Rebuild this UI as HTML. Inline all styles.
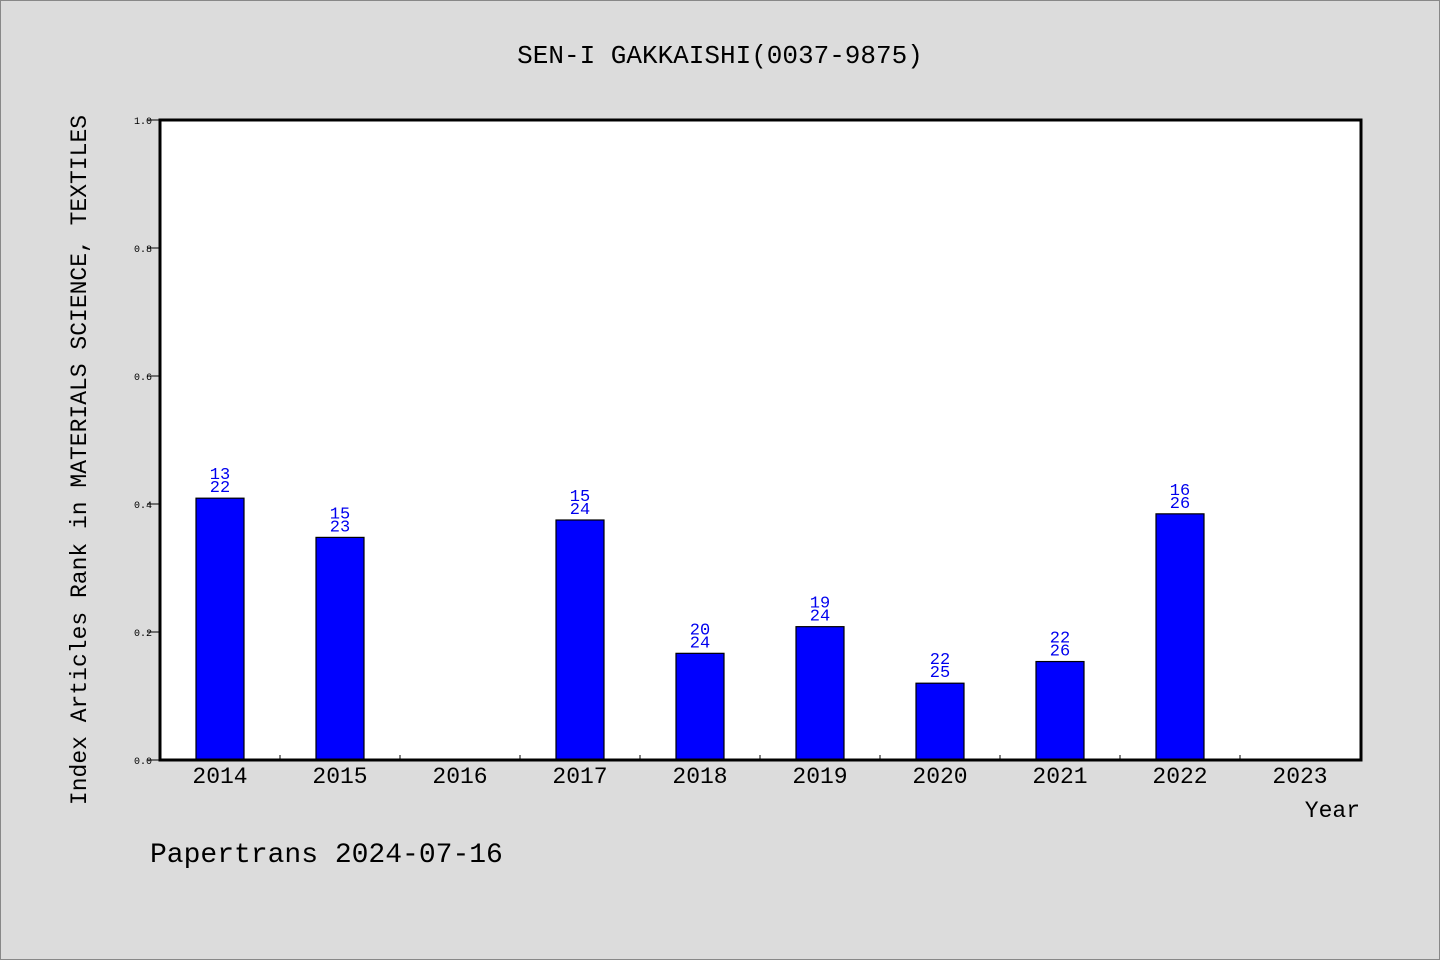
<!DOCTYPE html>
<html><head><meta charset="utf-8"><style>
html,body{margin:0;padding:0;background:#dcdcdc;}
svg{display:block;font-family:"WenQuanYi Zen Hei","Liberation Mono",monospace;}
</style></head><body>
<svg id="chart" width="1440" height="960">
<rect x="0.5" y="0.5" width="1439" height="959" fill="#dcdcdc" stroke="#888"/>
<text x="720" y="63" font-size="26" text-anchor="middle">SEN-I GAKKAISHI(0037-9875)</text>
<rect x="160" y="120" width="1201" height="640" fill="#fff"/>
<g id="bars"></g>
<g id="axes"></g>
<text transform="translate(86,460) rotate(-90)" font-size="23" text-anchor="middle">Index Articles Rank in MATERIALS SCIENCE, TEXTILES</text>
<text x="1360" y="817" font-size="23" text-anchor="end">Year</text>
<text x="150" y="862" font-size="28">Papertrans 2024-07-16</text>
</svg>
<script>
const years=["2014","2015","2016","2017","2018","2019","2020","2021","2022","2023"];
const ranks=[13,15,null,15,20,19,22,22,16,null];
const totals=[22,23,null,24,24,24,25,26,26,null];
const yTicks=[0,0.2,0.4,0.6,0.8,1.0];
const NS="http://www.w3.org/2000/svg";
const X0=160,W=1201,Y0=760,H=640,step=120;
const xs=i=>X0+step*i+step/2;
const ys=v=>Y0-v*H;
const bars=document.getElementById('bars'),axes=document.getElementById('axes');
function mk(t,a,p){const e=document.createElementNS(NS,t);for(const k in a)e.setAttribute(k,a[k]);p.appendChild(e);return e;}
years.forEach((y,i)=>{
  if(ranks[i]!=null){
    const v=1-ranks[i]/totals[i];
    const r=mk('rect',{x:xs(i)-24,y:ys(v),width:48,height:Y0-ys(v),fill:'#0000ff',stroke:'#000','stroke-width':1.2},bars);
    
    
    const t1=mk('text',{x:xs(i),y:ys(v)-19,'font-size':17,fill:'#0000ee','text-anchor':'middle'},bars);
    t1.textContent=ranks[i];
    
    
    const t2=mk('text',{x:xs(i),y:ys(v)-6,'font-size':17,fill:'#0000ee','text-anchor':'middle'},bars);
    t2.textContent=totals[i];
    
    
  }
  const lb=mk('text',{x:xs(i),y:783,'font-size':23,'text-anchor':'middle'},axes);
  lb.textContent=y;
  
  
  if(i>0){
    const tk=mk('line',{x1:X0+step*i,x2:X0+step*i,y1:Y0,y2:Y0-5,stroke:'#000','stroke-width':1},axes);
    
    
  }
});
yTicks.forEach(v=>{
  const tk=mk('line',{x1:147,x2:160,y1:ys(v),y2:ys(v),stroke:'#000','stroke-width':1},axes);
  
  
  const t=mk('text',{x:152,y:ys(v)+4,'font-size':10,'text-anchor':'end'},axes);
  t.textContent=v.toFixed(1);
  
  
});
const fr=mk('rect',{x:X0,y:Y0-H,width:W,height:H,fill:'none',stroke:'#000','stroke-width':3},axes);


</script>
</body></html>
